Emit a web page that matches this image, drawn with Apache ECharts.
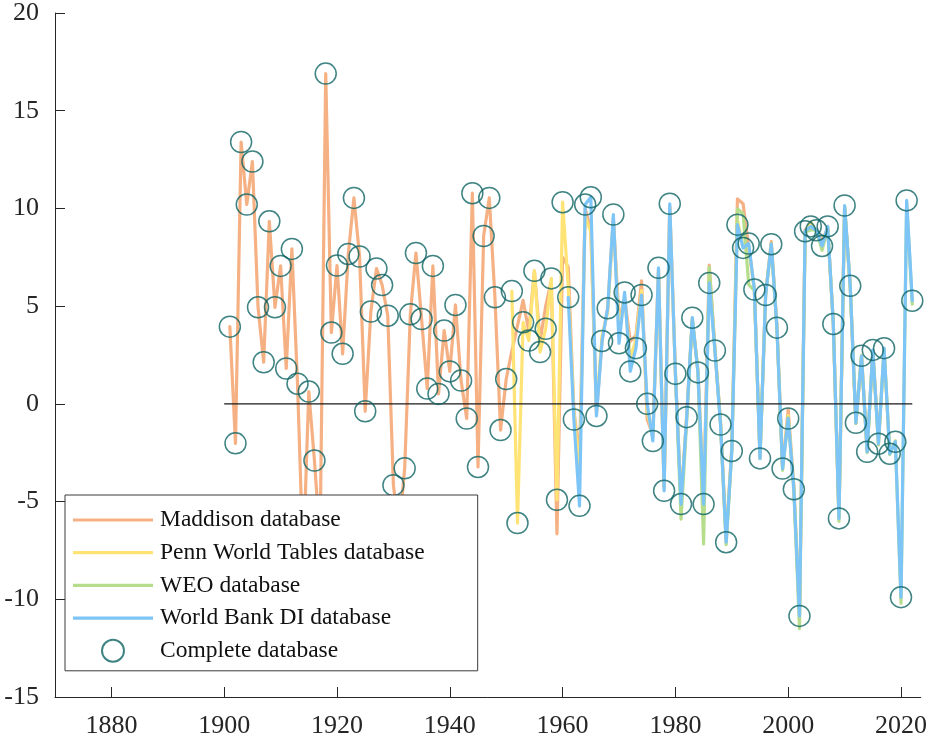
<!DOCTYPE html>
<html>
<head>
<meta charset="utf-8">
<script src="https://cdn.jsdelivr.net/npm/echarts@6/dist/echarts.min.js"></script>
<style>
html,body{margin:0;padding:0;background:#fff;}
#chart{width:930px;height:740px;}
</style>
</head>
<body>
<div id="chart"></div>
<script>
// ---------------- data ----------------
const seriesNames = ['Maddison database', 'Penn World Tables database', 'WEO database', 'World Bank DI database', 'Complete database'];
const xTickLabels = [1880, 1900, 1920, 1940, 1960, 1980, 2000, 2020];
const yTickLabels = [-15, -10, -5, 0, 5, 10, 15, 20];

const maddisonStart = 1901;
const maddisonValues = [
  3.95, -2.02, 13.4, 10.2, 12.4, 4.94, 2.13, 9.34, 4.94, 7.06,      // 1901-1910
  1.81, 7.93, 1.03, -8.0, 0.63, -2.9, -7.0, 16.9, 3.65, 7.08,       // 1911-1920
  2.56, 7.67, 10.54, 7.54, -0.38, 4.72, 6.92, 6.08, 4.51, -4.16,    // 1921-1930
  -6.5, -3.3, 4.58, 7.72, 4.34, 0.78, 7.06, 0.51, 3.75, 1.66,       // 1931-1940
  5.06, 1.19, -0.75, 10.78, -3.23, 8.59, 10.54, 5.45, -1.34, 1.27,  // 1941-1950
  2.7, 4.0, 5.3, 3.7, 6.8, 3.2, 5.0, 6.3, -6.65, 7.5,               // 1951-1960
  7.0, -0.3, -2.8, 10.0, 8.9, -0.5, 3.3, 4.9, 9.5, 4.3,             // 1961-1970
  5.4, 3.2, 3.5, 6.3, -0.8, -1.6, 6.9, -4.3, 10.1, 1.6,             // 1971-1980
  -5.0, -0.6, 4.3, 1.7, -5.0, 7.1, 2.9, -0.9, -6.9, -2.2,           // 1981-1990
  10.49, 10.24, 8.0, 5.9, -2.6, 5.6, 8.3, 4.0, -3.2, -0.3,          // 1991-2000
  -4.2, -10.8, 8.9, 9.1, 8.9, 8.3, 9.0, 4.1, -5.8, 10.1,            // 2001-2010
  6.0, -1.0, 2.4, -2.4, 2.7, -1.8                                    // 2011-2016
];

const pennStart = 1951;
const pennValues = [
  5.77, -6.1, 4.17, 3.24, 6.81, 2.65, 3.84, 6.42, -4.91, 10.32,     // 1951-1960
  6.0, -0.4, -3.6, 9.6, 8.8, -0.3, 3.5, 4.7, 9.4, 3.9,              // 1961-1970
  5.4, 2.3, 3.3, 5.8, -0.4, -1.7, 6.8, -4.3, 10.0, 1.6,             // 1971-1980
  -5.0, -0.6, 4.4, 1.7, -5.0, 6.4, 2.8, -1.0, -7.0, -2.3,           // 1981-1990
  9.4, 8.0, 8.0, 5.8, -2.7, 5.6, 8.1, 3.9, -3.2, -0.6,              // 1991-2000
  -4.3, -10.7, 8.7, 9.3, 8.8, 8.1, 9.0, 4.1, -5.8, 10.1,            // 2001-2010
  6.0, -1.0, 2.5, -2.4, 2.7, -2.0, 2.8, -2.5, -1.9                  // 2011-2019
];

const weoStart = 1980;
const weoValues = [
  1.54,                                                              // 1980
  -5.9, -0.9, 4.3, 1.6, -7.17, 7.0, 2.8, -1.0, -7.2, -2.4,          // 1981-1990
  9.98, 9.73, 6.1, 5.8, -2.8, 5.6, 8.2, 3.9, -3.4, -0.7,            // 1991-2000
  -4.4, -11.5, 8.8, 8.9, 8.9, 7.86, 9.0, 4.1, -6.0, 10.1,           // 2001-2010
  6.0, -1.0, 2.4, -2.5, 2.7, -2.1, 2.8, -2.6, -1.9, -10.2,          // 2011-2020
  10.3, 5.1                                                          // 2021-2022
];

const wbStart = 1961;
const wbValues = [
  5.45, -0.8, -5.22, 10.2, 10.57, -0.62, 3.22, 4.89, 9.69, 3.1,     // 1961-1970
  5.7, 1.66, 2.85, 5.57, 0.0, -1.9, 6.96, -4.45, 10.24, 1.54,       // 1971-1980
  -5.13, -0.68, 4.41, 1.61, -5.13, 6.19, 2.73, -1.06, -7.08, -2.41, // 1981-1990
  9.17, 7.98, 8.2, 5.85, -2.79, 5.57, 8.17, 3.9, -3.31, -0.75,      // 1991-2000
  -4.37, -10.85, 8.83, 9.08, 8.88, 8.08, 9.08, 4.09, -5.86, 10.15,  // 2001-2010
  6.04, -0.97, 2.46, -2.45, 2.76, -2.04, 2.85, -2.55, -1.94, -9.89, // 2011-2020
  10.41, 5.28                                                        // 2021-2022
];

const completeStart = 1901;
const completeValues = [
  3.95, -2.02, 13.4, 10.2, 12.4, 4.94, 2.13, 9.34, 4.94, 7.06,      // 1901-1910
  1.81, 7.93, 1.03, -8.0, 0.63, -2.9, -7.0, 16.9, 3.65, 7.08,       // 1911-1920
  2.56, 7.67, 10.54, 7.54, -0.38, 4.72, 6.92, 6.08, 4.51, -4.16,    // 1921-1930
  -6.5, -3.3, 4.58, 7.72, 4.34, 0.78, 7.06, 0.51, 3.75, 1.66,       // 1931-1940
  5.06, 1.19, -0.75, 10.78, -3.23, 8.59, 10.54, 5.45, -1.34, 1.27,  // 1941-1950
  5.77, -6.1, 4.17, 3.24, 6.81, 2.65, 3.84, 6.42, -4.91, 10.32,     // 1951-1960
  5.45, -0.8, -5.22, 10.2, 10.57, -0.62, 3.22, 4.89, 9.69, 3.1,     // 1961-1970
  5.7, 1.66, 2.85, 5.57, 0.0, -1.9, 6.96, -4.45, 10.24, 1.54,       // 1971-1980
  -5.13, -0.68, 4.41, 1.61, -5.13, 6.19, 2.73, -1.06, -7.08, -2.41, // 1981-1990
  9.17, 7.98, 8.2, 5.85, -2.79, 5.57, 8.17, 3.9, -3.31, -0.75,      // 1991-2000
  -4.37, -10.85, 8.83, 9.08, 8.88, 8.08, 9.08, 4.09, -5.86, 10.15,  // 2001-2010
  6.04, -0.97, 2.46, -2.45, 2.76, -2.04, 2.85, -2.55, -1.94, -9.89, // 2011-2020
  10.41, 5.28                                                        // 2021-2022
];

const zeroLineYears = [1900, 2022];
const zeroLineValues = [0, 0];

// ---------------- build ----------------
function pairs(start, vals) { return vals.map((v, i) => [start + i, v]); }

const FONT = "'Liberation Serif', 'Times New Roman', serif";
const TXT = '#262626';
const colors = ['#F5B183', '#FFE375', '#B6DD8C', '#7DC4F7', '#0F6464'];
const LINE_ICON = 'path://M0,0H80V3.2H0Z';

function lineSeries(name, data, color) {
  return {
    name, type: 'line', data, symbol: 'none', showSymbol: false,
    lineStyle: { color, width: 3.2, join: 'round', cap: 'round' },
    itemStyle: { color }, emphasis: { disabled: true }, silent: true, animation: false, z: 2
  };
}

const chart = echarts.init(document.getElementById('chart'), null, { renderer: 'canvas' });
chart.setOption({
  animation: false,
  backgroundColor: '#fff',
  grid: { left: 55, right: 0, top: 10, bottom: 43, containLabel: false },
  xAxis: {
    type: 'value', min: 1870, max: 2023.5,
    splitLine: { show: false },
    axisLine: { show: true, onZero: false, lineStyle: { color: TXT, width: 1 } },
    axisTick: { show: true, inside: true, length: 10, customValues: xTickLabels, lineStyle: { color: TXT } },
    axisLabel: { customValues: xTickLabels, formatter: v => String(v), color: TXT, fontFamily: FONT, fontSize: 26, margin: 16 }
  },
  yAxis: {
    type: 'value', min: -15, max: 20, interval: 5,
    splitLine: { show: false },
    axisLine: { show: true, onZero: false, lineStyle: { color: TXT, width: 1 } },
    axisTick: { show: true, inside: true, length: 10, lineStyle: { color: TXT } },
    axisLabel: { color: TXT, fontFamily: FONT, fontSize: 26, margin: 16,
      customValues: yTickLabels, formatter: v => String(v) }
  },
  legend: {
    data: [
      { name: seriesNames[0], icon: LINE_ICON },
      { name: seriesNames[1], icon: LINE_ICON },
      { name: seriesNames[2], icon: LINE_ICON },
      { name: seriesNames[3], icon: LINE_ICON },
      { name: seriesNames[4] }
    ],
    orient: 'vertical',
    left: 65, top: 495,
    padding: [13, 53, 8, 8],
    itemWidth: 80, itemHeight: 22, itemGap: 8.7,
    backgroundColor: '#fff',
    borderColor: '#3a3a3a', borderWidth: 1, borderRadius: 0,
    selectedMode: false,
    textStyle: { color: '#111', fontFamily: FONT, fontSize: 23.5, lineHeight: 22, padding: [0, 0, 0, 2] },
    z: 10
  },
  series: [
    lineSeries(seriesNames[0], pairs(maddisonStart, maddisonValues), colors[0]),
    lineSeries(seriesNames[1], pairs(pennStart, pennValues), colors[1]),
    lineSeries(seriesNames[2], pairs(weoStart, weoValues), colors[2]),
    lineSeries(seriesNames[3], pairs(wbStart, wbValues), colors[3]),
    {
      name: 'zero', type: 'line', data: zeroLineYears.map((y, i) => [y, zeroLineValues[i]]),
      symbol: 'none', lineStyle: { color: '#1a1a1a', width: 1.2 }, silent: true, z: 3
    },
    {
      name: seriesNames[4], type: 'scatter', data: pairs(completeStart, completeValues),
      symbol: 'circle', symbolSize: 21,
      itemStyle: { color: 'rgba(0,0,0,0)', borderColor: colors[4], borderWidth: 1.5 },
      emphasis: { disabled: true }, silent: true, z: 4
    }
  ]
});
</script>
</body>
</html>
